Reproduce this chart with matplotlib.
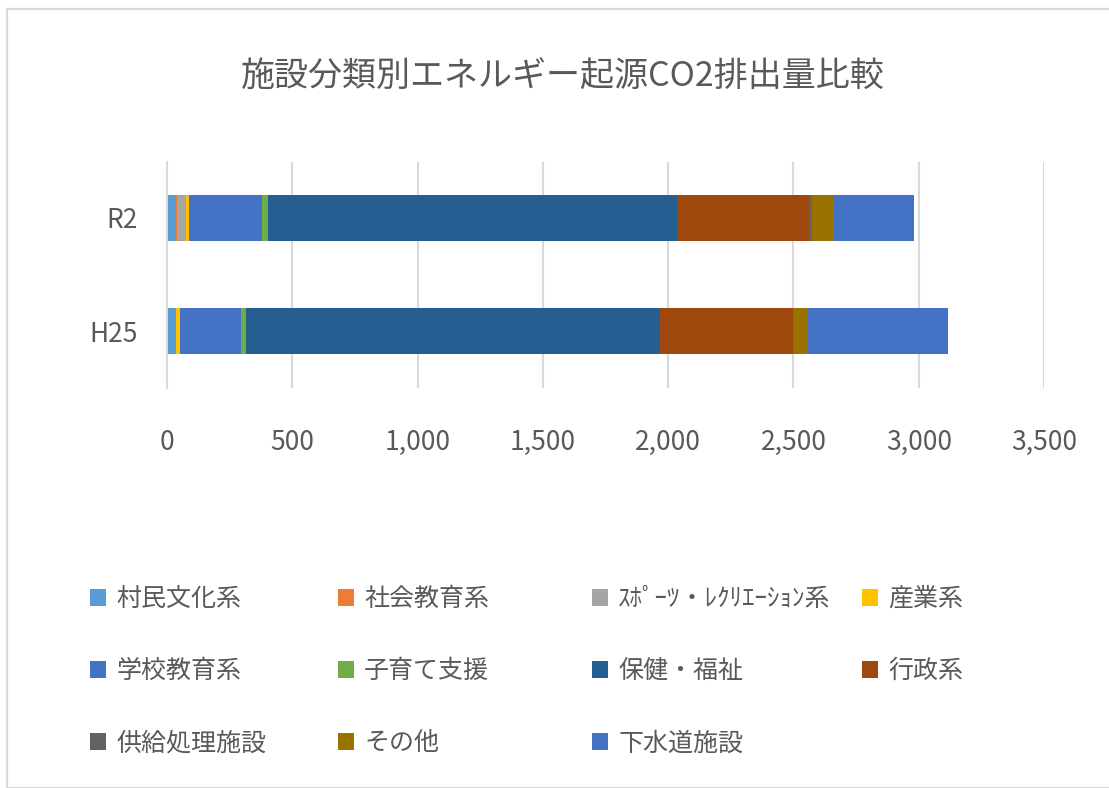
import matplotlib
matplotlib.use("Agg")
import matplotlib.pyplot as plt
from matplotlib.patches import Rectangle, Patch
import numpy as np

plt.rcParams['font.family'] = ['Noto Sans CJK JP', 'DejaVu Sans']

years = ["H25", "R2"]
categories = ["村民文化系", "社会教育系", "ｽﾎﾟｰﾂ・ﾚｸﾘｴｰｼｮﾝ系", "産業系",
              "学校教育系", "子育て支援", "保健・福祉", "行政系",
              "供給処理施設", "その他", "下水道施設"]
# values per category: [H25, R2]
vals_h25 = [36, 0, 0, 16, 243, 20, 1654, 530, 0, 54, 562]
vals_r2 = [35, 5, 35, 13, 291, 23, 1633, 528, 12, 87, 320]
colors = ["#5B9BD5", "#ED7D31", "#A5A5A5", "#FFC000", "#4472C4", "#70AD47",
          "#255E91", "#9E480E", "#636363", "#997300", "#4472C4"]

txt = "#595959"
grid = "#d9d9d9"

fig = plt.figure(figsize=(11.09, 7.88), dpi=100)
fig.patches.append(Rectangle((7 / 1109, 0), 1.2, (788 - 9) / 788,
                             transform=fig.transFigure, fill=False,
                             edgecolor=grid, linewidth=1.6))

ax = fig.add_axes([167 / 1109, 1 - 387.5 / 788, 877 / 1109, 226 / 788])

y = np.arange(len(years))
left = np.zeros(len(years))
handles = []
for cat, a, b, c in zip(categories, vals_h25, vals_r2, colors):
    w = np.array([a, b])
    ax.barh(y, w, left=left, height=0.4, color=c, linewidth=0)
    left += w
    handles.append(Patch(facecolor=c, edgecolor="none", label=cat))

ax.set_xlim(0, 3500)
ax.set_ylim(-0.5, 1.5)
ax.set_xticks(np.arange(0, 3501, 500))
ax.set_xticklabels([f"{v:,}" for v in range(0, 3501, 500)])
ax.set_yticks(y)
ax.set_yticklabels(years)
ax.xaxis.grid(True, color=grid, linewidth=1.5)
ax.set_axisbelow(True)
for s in ["top", "right", "bottom"]:
    ax.spines[s].set_visible(False)
ax.spines["left"].set_color(grid)
ax.spines["left"].set_linewidth(1.5)
ax.tick_params(axis="x", length=0, pad=30, labelsize=19, labelcolor=txt)
ax.tick_params(axis="y", length=0, pad=21, labelsize=19, labelcolor=txt)

fig.text(563 / 1109, 1 - 76 / 788, "施設分類別エネルギー起源CO2排出量比較",
         ha="center", va="center", fontsize=24.5, color=txt)

# legend: one column each, placed like the original layout
col_x = [90, 338, 592, 862]
for ci, x in enumerate(col_x):
    hs = handles[ci::4]
    fig.legend(handles=hs, loc="upper left",
               bbox_to_anchor=(x / 1109, 1 - 586 / 788),
               frameon=False, fontsize=18, labelcolor=txt,
               handlelength=0.65, handleheight=0.65, handletextpad=0.4,
               labelspacing=1.85, borderpad=0, borderaxespad=0)

fig.savefig("out.png", dpi=100)
